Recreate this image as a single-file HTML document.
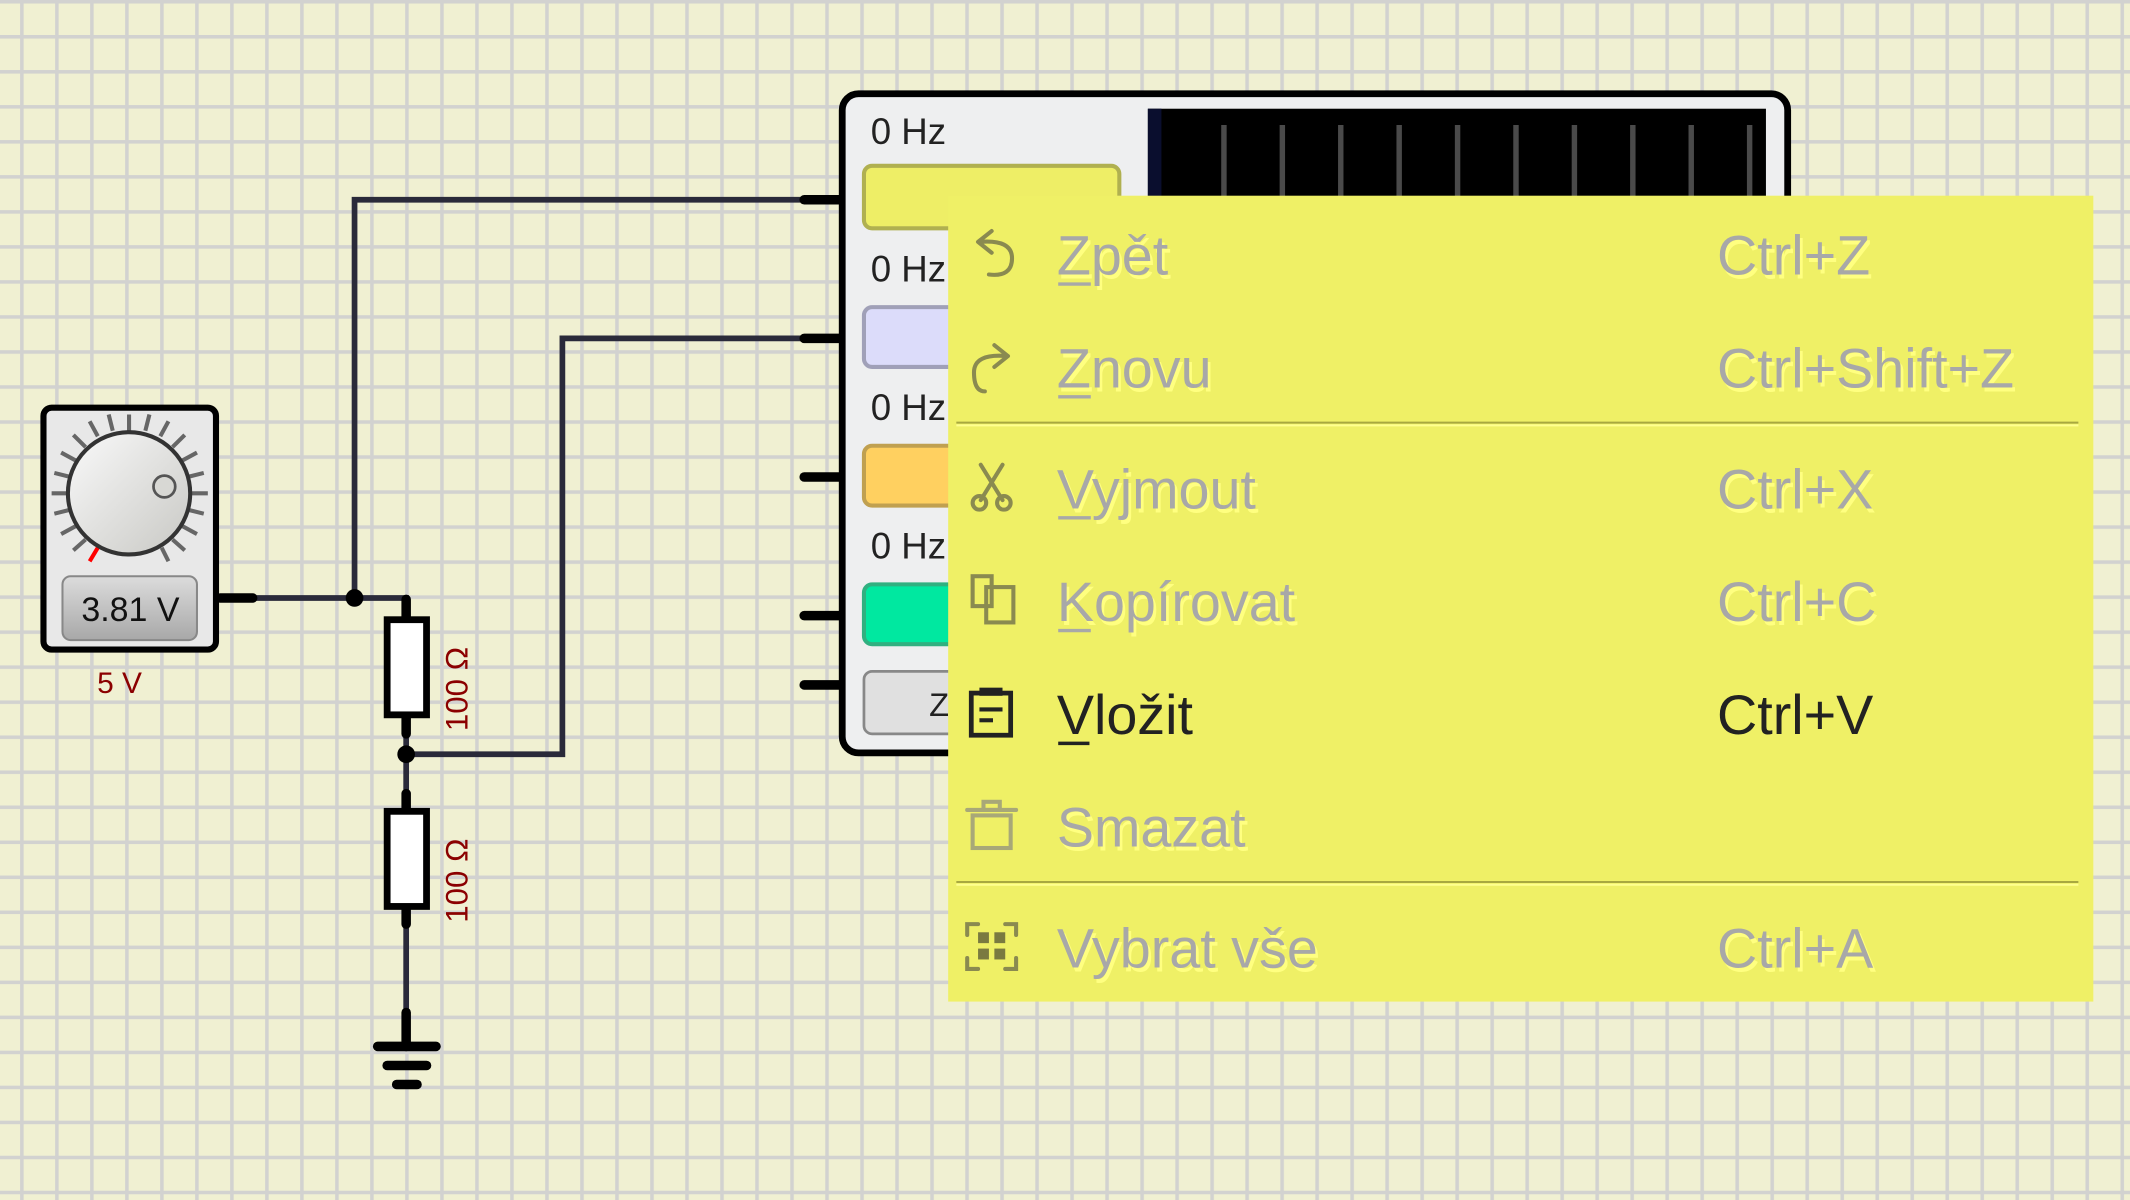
<!DOCTYPE html>
<html><head><meta charset="utf-8"><style>html,body{margin:0;padding:0;background:#f0f0d2;overflow:hidden}svg{display:block}</style></head>
<body>
<svg width="2130" height="1200" viewBox="0 0 1568 883" preserveAspectRatio="none" xmlns="http://www.w3.org/2000/svg" font-family="'Liberation Sans', 'DejaVu Sans', sans-serif">
<defs>
<pattern id="g" x="14.8" y="0" width="25.77" height="25.77" patternUnits="userSpaceOnUse">
<rect width="25.77" height="25.77" fill="#f0f0d2"/>
<rect x="0" y="0" width="2.6" height="25.77" fill="#d2d2d0"/>
<rect x="0" y="0" width="25.77" height="2.6" fill="#d2d2d0"/>
</pattern>
<linearGradient id="kn" x1="0" y1="0" x2="1" y2="1"><stop offset="0" stop-color="#fafafa"/><stop offset="1" stop-color="#c8c8c4"/></linearGradient>
<linearGradient id="dp" x1="0" y1="0" x2="0" y2="1"><stop offset="0" stop-color="#dcdcdc"/><stop offset="1" stop-color="#a8a8a8"/></linearGradient>
</defs>
<rect width="1568" height="883" fill="url(#g)"/>

<g stroke="#2a2a3a" stroke-width="4.2" fill="none">
<polyline points="186,440 299,440 299,455"/>
<polyline points="261,440 261,147 600,147"/>
<polyline points="299,527 299,597"/>
<polyline points="299,555 414,555 414,249 600,249"/>
<polyline points="299,667 299,745"/>
</g>
<g stroke="#000" stroke-width="7" stroke-linecap="round">
<line x1="162" y1="440" x2="186" y2="440"/>
<line x1="299" y1="441" x2="299" y2="455"/>
<line x1="299" y1="527" x2="299" y2="540"/>
<line x1="299" y1="584" x2="299" y2="597"/>
<line x1="299" y1="667" x2="299" y2="680"/>
<line x1="299" y1="745" x2="299" y2="770"/>
<line x1="592" y1="147" x2="618" y2="147"/>
<line x1="592" y1="249" x2="618" y2="249"/>
<line x1="592" y1="351" x2="618" y2="351"/>
<line x1="592" y1="453" x2="618" y2="453"/>
<line x1="592" y1="504" x2="618" y2="504"/>
<line x1="278" y1="770" x2="321" y2="770"/>
<line x1="285" y1="784" x2="314" y2="784"/>
<line x1="292" y1="798" x2="307" y2="798"/>
</g>
<circle cx="261" cy="440" r="6.5" fill="#000"/>
<circle cx="299" cy="555" r="6.5" fill="#000"/>

<rect x="285" y="456" width="29" height="70" fill="#fff" stroke="#000" stroke-width="5"/>
<rect x="285" y="597" width="29" height="70" fill="#fff" stroke="#000" stroke-width="5"/>
<text transform="translate(344,507) rotate(-90)" text-anchor="middle" font-size="23" fill="#8b0000">100 Ω</text>
<text transform="translate(344,648) rotate(-90)" text-anchor="middle" font-size="23" fill="#8b0000">100 Ω</text>

<rect x="32" y="300" width="127" height="178" rx="6" fill="#e8e8e8" stroke="#000" stroke-width="4.5"/>
<g stroke="#666" stroke-width="3">
<line x1="38" y1="363" x2="50" y2="363"/><line x1="141" y1="363" x2="153" y2="363"/>
<line x1="95" y1="305" x2="95" y2="317"/>
<line x1="40" y1="348" x2="52" y2="351"/><line x1="40" y1="378" x2="52" y2="375"/>
<line x1="45" y1="333" x2="56" y2="339"/><line x1="45" y1="393" x2="56" y2="387"/>
<line x1="54" y1="320" x2="63" y2="329"/><line x1="54" y1="405" x2="63" y2="397"/>
<line x1="66" y1="310" x2="72" y2="321"/>
<line x1="80" y1="305" x2="83" y2="317"/><line x1="110" y1="305" x2="107" y2="317"/>
<line x1="124" y1="310" x2="118" y2="321"/><line x1="136" y1="320" x2="127" y2="329"/>
<line x1="145" y1="333" x2="134" y2="339"/><line x1="150" y1="348" x2="138" y2="351"/>
<line x1="150" y1="378" x2="138" y2="375"/><line x1="145" y1="393" x2="134" y2="387"/>
<line x1="136" y1="405" x2="127" y2="397"/><line x1="124" y1="413" x2="119" y2="403"/>
</g>
<line x1="66" y1="413" x2="72" y2="403" stroke="#f00" stroke-width="3"/>
<circle cx="95" cy="363" r="45" fill="url(#kn)" stroke="#333" stroke-width="3"/>
<circle cx="121" cy="358" r="8" fill="#d8d8d4" stroke="#555" stroke-width="2"/>
<rect x="46" y="424" width="99" height="47" rx="6" fill="url(#dp)" stroke="#888" stroke-width="1.5"/>
<text x="96" y="457" text-anchor="middle" font-size="25" fill="#111">3.81 V</text>
<text x="88" y="510" text-anchor="middle" font-size="22" fill="#8b0000">5 V</text>

<rect x="620" y="69" width="696" height="485" rx="12" fill="#eeeff0" stroke="#000" stroke-width="5"/>
<rect x="845" y="80" width="455" height="80" fill="#000"/>
<rect x="845" y="80" width="10" height="80" fill="#0a0e2e"/>
<g stroke="#4a4a4a" stroke-width="4">
<line x1="901" y1="92" x2="901" y2="160"/><line x1="944" y1="92" x2="944" y2="160"/><line x1="987" y1="92" x2="987" y2="160"/><line x1="1030" y1="92" x2="1030" y2="160"/><line x1="1073" y1="92" x2="1073" y2="160"/><line x1="1116" y1="92" x2="1116" y2="160"/><line x1="1159" y1="92" x2="1159" y2="160"/><line x1="1202" y1="92" x2="1202" y2="160"/><line x1="1245" y1="92" x2="1245" y2="160"/><line x1="1288" y1="92" x2="1288" y2="160"/>
</g>
<g font-size="27" fill="#222">
<text x="641" y="106">0 Hz</text><text x="641" y="207">0 Hz</text><text x="641" y="309">0 Hz</text><text x="641" y="411">0 Hz</text>
</g>
<rect x="636" y="122" width="188" height="46" rx="6" fill="#eeee66" stroke="#b0b050" stroke-width="3"/>
<rect x="636" y="226" width="188" height="44" rx="6" fill="#dcdcfa" stroke="#a0a0b8" stroke-width="3"/>
<rect x="636" y="328" width="188" height="44" rx="6" fill="#ffd060" stroke="#c0a050" stroke-width="3"/>
<rect x="636" y="430" width="188" height="44" rx="6" fill="#00e8a0" stroke="#30b080" stroke-width="3"/>
<rect x="636" y="494" width="188" height="46" rx="6" fill="#e0e0e0" stroke="#888" stroke-width="2"/>
<text x="684" y="527" font-size="24" fill="#222">Z</text>

<rect x="698" y="144" width="843" height="593" fill="#eff066"/>
<line x1="704" y1="311" x2="1530" y2="311" stroke="#a8a840" stroke-width="1.5"/>
<line x1="704" y1="313" x2="1530" y2="313" stroke="#ffff90" stroke-width="1.5"/>
<line x1="704" y1="649" x2="1530" y2="649" stroke="#a8a840" stroke-width="1.5"/>
<line x1="704" y1="651" x2="1530" y2="651" stroke="#ffff90" stroke-width="1.5"/>
<g font-size="41">
<g fill="#ffff80" transform="translate(2,3)">
<text x="778" y="202">Zpět</text><text x="1264" y="202">Ctrl+Z</text>
<text x="778" y="285">Znovu</text><text x="1264" y="285">Ctrl+Shift+Z</text>
<text x="778" y="374">Vyjmout</text><text x="1264" y="374">Ctrl+X</text>
<text x="778" y="457">Kopírovat</text><text x="1264" y="457">Ctrl+C</text>
<text x="778" y="623">Smazat</text>
<text x="778" y="712">Vybrat vše</text><text x="1264" y="712">Ctrl+A</text>
</g>
<g fill="#a8a8a8">
<text x="778" y="202">Zpět</text><text x="1264" y="202">Ctrl+Z</text>
<text x="778" y="285">Znovu</text><text x="1264" y="285">Ctrl+Shift+Z</text>
<text x="778" y="374">Vyjmout</text><text x="1264" y="374">Ctrl+X</text>
<text x="778" y="457">Kopírovat</text><text x="1264" y="457">Ctrl+C</text>
<text x="778" y="623">Smazat</text>
<text x="778" y="712">Vybrat vše</text><text x="1264" y="712">Ctrl+A</text>
</g>
<g fill="#222"><text x="778" y="540">Vložit</text><text x="1264" y="540">Ctrl+V</text></g>
</g>
<g stroke="#a8a8a8" stroke-width="2.5">
<line x1="779" y1="209" x2="803" y2="209"/><line x1="779" y1="292" x2="803" y2="292"/>
<line x1="779" y1="381" x2="803" y2="381"/><line x1="779" y1="464" x2="803" y2="464"/>
</g>
<line x1="779" y1="547" x2="802" y2="547" stroke="#222" stroke-width="2.5"/>
<g fill="none" stroke="#8a8a50" stroke-width="3" stroke-linecap="round">
<path d="M720,178 L730,170 M720,178 L730,186 M721,178 Q745,176 745,190 Q745,204 728,202"/>
<path d="M742,262 L732,254 M742,262 L732,270 M741,262 Q717,260 717,274 Q717,288 725,288"/>
<path d="M722,342 L738,368 M738,342 L722,368"/><circle cx="721" cy="370" r="5"/><circle cx="739" cy="370" r="5"/>
<rect x="716" y="424" width="14" height="22"/><rect x="726" y="432" width="20" height="26"/>
<rect x="716" y="600" width="28" height="24" stroke="#a8a878"/><line x1="712" y1="596" x2="748" y2="596" stroke="#a8a878"/><rect x="724" y="590" width="12" height="6" stroke="#a8a878"/>
<path d="M712,688 v-8 h8 M740,680 h8 v8 M712,705 v8 h8 M740,713 h8 v-8"/>
</g>
<g fill="#7a7a40"><rect x="720" y="686" width="8" height="8"/><rect x="732" y="686" width="8" height="8"/><rect x="720" y="698" width="8" height="8"/><rect x="732" y="698" width="8" height="8"/></g>
<rect x="715" y="510" width="29" height="31" fill="none" stroke="#222" stroke-width="3.5"/>
<rect x="721" y="506" width="17" height="6" fill="#222"/>
<line x1="721" y1="522" x2="738" y2="522" stroke="#222" stroke-width="3"/>
<line x1="721" y1="530" x2="731" y2="530" stroke="#222" stroke-width="3"/>
</svg>
</body></html>
